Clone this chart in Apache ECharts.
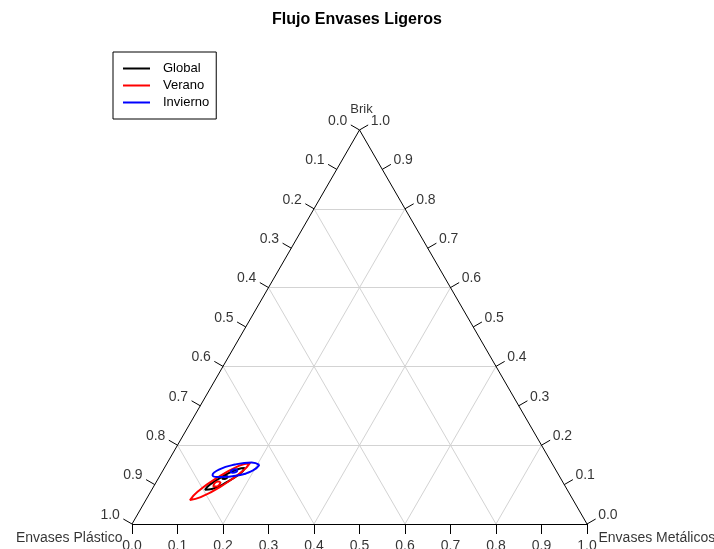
<!DOCTYPE html>
<html>
<head>
<meta charset="utf-8">
<script src="https://cdn.jsdelivr.net/npm/echarts@6/dist/echarts.min.js"></script>
<style>
  html, body { margin: 0; padding: 0; background: #fff; }
  #chart { width: 714px; height: 549px; }
</style>
</head>
<body>
<div id="chart"></div>
<script>
// composiciones: [metal, brik]  (plastico = 1 - metal - brik)
var ticks = [0, 0.1, 0.2, 0.3, 0.4, 0.5, 0.6, 0.7, 0.8, 0.9, 1.0];
var tickLabels = ['0.0', '0.1', '0.2', '0.3', '0.4', '0.5', '0.6', '0.7', '0.8', '0.9', '1.0'];
var gridVals = [0.2, 0.4, 0.6, 0.8];
var axisNames = ['Envases Plástico', 'Envases Metálicos', 'Brik'];
var groups = ['Global', 'Verano', 'Invierno'];
var colors = ['#000000', '#ff0000', '#0000ff'];

var globalOuter = [[0.177,0.142],[0.174,0.128],[0.155,0.106],[0.131,0.089],[0.117,0.087],[0.121,0.100],[0.140,0.122],[0.163,0.139],[0.177,0.142]];
var globalInner = [[0.150,0.121],[0.150,0.117],[0.146,0.114],[0.141,0.115],[0.141,0.119],[0.145,0.122],[0.150,0.121]];
var veranoOuter = [[0.182,0.155],[0.176,0.134],[0.150,0.098],[0.117,0.068],[0.097,0.061],[0.103,0.082],[0.129,0.118],[0.162,0.148],[0.182,0.155]];
var veranoInner = [[0.141,0.107],[0.142,0.100],[0.137,0.095],[0.131,0.096],[0.130,0.103],[0.135,0.108],[0.141,0.107]];
var inviernoOuter = [[0.205,0.150],[0.198,0.136],[0.170,0.123],[0.135,0.119],[0.115,0.124],[0.122,0.138],[0.151,0.151],[0.185,0.156],[0.205,0.150]];
var inviernoInner = [[0.163,0.137],[0.163,0.132],[0.156,0.130],[0.151,0.132],[0.151,0.137],[0.158,0.139],[0.163,0.137]];

var H = Math.sqrt(3) / 2;
var PX = 455;            // pixels per unit side
var tickLen = 10 / PX;

function toXY(m, b) { return [m + b / 2, b * H]; }
function conv(arr) { return arr.map(function (p) { return toXY(p[0], p[1]); }); }

// triangle frame
var frame = [
    { coords: [toXY(0, 0), toXY(1, 0)] },
    { coords: [toXY(1, 0), toXY(0, 1)] },
    { coords: [toXY(0, 1), toXY(0, 0)] }
];

// grid lines
var gridLines = [];
gridVals.forEach(function (v) {
    gridLines.push({ coords: [toXY(0, v), toXY(1 - v, v)] });       // brik const
    gridLines.push({ coords: [toXY(v, 0), toXY(v, 1 - v)] });       // metal const
    gridLines.push({ coords: [toXY(1 - v, 0), toXY(0, 1 - v)] });   // plastico const
});

// ticks & labels
var tickLines = [];
var leftLab = [], rightLab = [], bottomLab = [];
ticks.forEach(function (t, i) {
    // bottom: metal
    var pb = toXY(t, 0);
    var eb = [pb[0], pb[1] - tickLen];
    tickLines.push({ coords: [pb, eb] });
    bottomLab.push({ value: eb, name: tickLabels[i] });
    // left: plastico = t  -> brik = 1 - t, metal 0
    var pl = toXY(0, 1 - t);
    var el = [pl[0] - tickLen * H, pl[1] + tickLen * 0.5];
    tickLines.push({ coords: [pl, el] });
    leftLab.push({ value: el, name: tickLabels[i] });
    // right: brik = t, metal = 1 - t
    var pr = toXY(1 - t, t);
    var er = [pr[0] + tickLen * H, pr[1] + tickLen * 0.5];
    tickLines.push({ coords: [pr, er] });
    rightLab.push({ value: er, name: tickLabels[i] });
});

var FONT = 'Liberation Sans, Arial, sans-serif';

function labelSeries(data, label) {
    return {
        type: 'scatter', silent: true, symbolSize: 1, z: 5,
        itemStyle: { color: 'rgba(0,0,0,0)' },
        data: data,
        label: Object.assign({ show: true, formatter: '{b}', fontSize: 14, fontFamily: FONT, color: '#000' }, label)
    };
}

function ellipse(name, data, color) {
    return {
        name: name, type: 'line', data: conv(data), smooth: true,
        symbol: 'none', silent: true, z: 10,
        lineStyle: { color: color, width: 2 },
        itemStyle: { color: color }
    };
}

var chart = echarts.init(document.getElementById('chart'));

chart.setOption({
    animation: false,
    backgroundColor: '#fff',
    title: {
        text: 'Flujo Envases Ligeros',
        left: 'center', top: 7,
        textStyle: { fontSize: 16, fontWeight: 'bold', fontFamily: FONT, color: '#000' }
    },
    legend: {
        data: groups,
        orient: 'vertical',
        left: 113, top: 52,
        icon: 'rect',
        borderColor: '#000', borderWidth: 1, borderRadius: 0,
        padding: [9, 7, 9, 10],
        itemWidth: 27, itemHeight: 2, itemGap: 2,
        textStyle: { fontSize: 13, fontFamily: FONT, color: '#000', padding: [0, 0, 0, 8], lineHeight: 15 }
    },
    grid: { left: 0, right: 0, top: 0, bottom: 0 },
    xAxis: { type: 'value', min: -132 / PX, max: 582 / PX, show: false },
    yAxis: { type: 'value', min: -25 / PX, max: 524 / PX, show: false },
    series: [
        { type: 'lines', coordinateSystem: 'cartesian2d', silent: true, z: 1,
          lineStyle: { color: '#d3d3d3', width: 1, opacity: 1 }, data: gridLines },
        { type: 'lines', coordinateSystem: 'cartesian2d', silent: true, z: 2,
          lineStyle: { color: '#000', width: 1, opacity: 1 }, data: frame.concat(tickLines) },
        labelSeries(bottomLab, { position: 'bottom', distance: 5 }),
        labelSeries(leftLab, { position: 'left', distance: 3, offset: [0, -4] }),
        labelSeries(rightLab, { position: 'right', distance: 2, offset: [0, -4] }),
        labelSeries([
            { value: toXY(0, 0), name: axisNames[0], label: { position: 'left', distance: 9, offset: [0, 14] } },
            { value: toXY(1, 0), name: axisNames[1], label: { position: 'right', distance: 11, offset: [0, 14] } },
            { value: toXY(0, 1), name: axisNames[2], label: { position: 'top', distance: 14, offset: [2, 0], fontSize: 13 } }
        ], {}),
        ellipse(groups[0], globalOuter, colors[0]),
        ellipse(groups[0], globalInner, colors[0]),
        ellipse(groups[1], veranoOuter, colors[1]),
        ellipse(groups[1], veranoInner, colors[1]),
        ellipse(groups[2], inviernoOuter, colors[2]),
        ellipse(groups[2], inviernoInner, colors[2])
    ]
});
</script>
</body>
</html>
